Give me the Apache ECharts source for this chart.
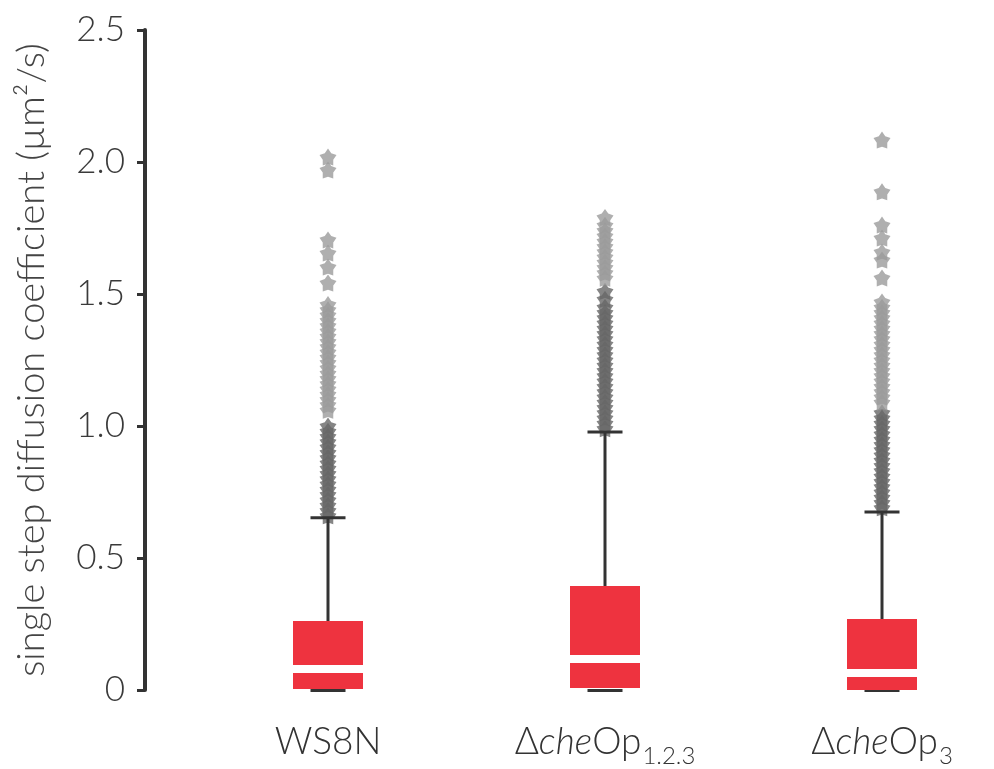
<!DOCTYPE html>
<html>
<head>
<meta charset="utf-8">
<script src="https://cdn.jsdelivr.net/npm/echarts@6/dist/echarts.min.js"></script>
<style>
  html, body { margin: 0; padding: 0; background: #ffffff; }
  #chart { width: 994px; height: 769px; }
</style>
</head>
<body>
<div id="chart"></div>
<script>
// Strains compared
const categories = ['WS8N', 'ΔcheOp1.2.3', 'ΔcheOp3'];
const categoryLabels = [
  '{n|WS8N}',
  '{n|Δ}{i|che}{n|Op}{s|1.2.3}',
  '{n|Δ}{i|che}{n|Op}{s|3}'
];

// Box statistics per strain: [lower whisker, Q1, median, Q3, upper whisker] in µm²/s
const boxWS8N = [0, 0.004, 0.080, 0.261, 0.652];
const boxCheOp123 = [0, 0.008, 0.117, 0.394, 0.977];
const boxCheOp3 = [0, 0.000, 0.064, 0.269, 0.674];

// Outliers, densely packed part just above the upper whisker
const denseWS8N = [0.66, 0.68, 0.70, 0.72, 0.74, 0.76, 0.78, 0.80, 0.82, 0.84, 0.86, 0.88, 0.90, 0.92, 0.94, 0.96, 0.98, 1.00];
const denseCheOp123 = [0.99, 1.01, 1.03, 1.05, 1.07, 1.09, 1.11, 1.13, 1.15, 1.17, 1.19, 1.21, 1.23, 1.25, 1.27, 1.29, 1.31, 1.33, 1.35, 1.37, 1.39, 1.41, 1.43, 1.45, 1.48, 1.51];
const denseCheOp3 = [0.69, 0.71, 0.73, 0.75, 0.77, 0.79, 0.81, 0.83, 0.85, 0.87, 0.89, 0.91, 0.93, 0.95, 0.97, 0.99, 1.01, 1.03, 1.05];

// Outliers, sparser part further out
const sparseWS8N = [1.06, 1.08, 1.10, 1.12, 1.14, 1.16, 1.18, 1.20, 1.22, 1.24, 1.26, 1.28, 1.30, 1.32, 1.34, 1.36, 1.38, 1.40, 1.42, 1.44, 1.46, 1.542, 1.602, 1.655, 1.705, 1.970, 2.019];
const sparseCheOp123 = [1.56, 1.58, 1.60, 1.62, 1.64, 1.66, 1.68, 1.70, 1.72, 1.74, 1.76, 1.79];
const sparseCheOp3 = [1.09, 1.11, 1.13, 1.15, 1.17, 1.19, 1.21, 1.23, 1.25, 1.27, 1.29, 1.31, 1.33, 1.35, 1.37, 1.39, 1.41, 1.43, 1.45, 1.47, 1.561, 1.629, 1.659, 1.712, 1.761, 1.887, 2.083];

// Y axis ticks
const yTicks = [0, 0.5, 1.0, 1.5, 2.0, 2.5];

const boxes = [boxWS8N, boxCheOp123, boxCheOp3];
const denseSets = [denseWS8N, denseCheOp123, denseCheOp3];
const sparseSets = [sparseWS8N, sparseCheOp123, sparseCheOp3];

const toPoints = sets => sets.flatMap((vals, i) => vals.map(v => [i, v]));

// Fat five-pointed star used for outlier markers
const STAR = 'path://M50,0 L68.2,24.9 L97.6,34.5 L79.5,59.6 L79.4,90.5 L50,81 L20.6,90.5 L20.5,59.6 L2.4,34.5 L31.8,24.9 Z';
const FONT = 'Lato, "Open Sans", sans-serif';
const DARK = '#333333';

const chart = echarts.init(document.getElementById('chart'), null, { renderer: 'canvas' });

chart.setOption({
  backgroundColor: '#ffffff',
  animation: false,
  grid: { left: 189.5, width: 831, top: 30, bottom: 79, containLabel: false, outerBoundsMode: 'none' },
  xAxis: {
    type: 'category',
    data: categories,
    axisLine: { show: false },
    axisTick: { show: false },
    splitLine: { show: false },
    axisLabel: {
      margin: 34,
      interval: 0,
      formatter: (v, i) => categoryLabels[i],
      rich: {
        n: { fontFamily: FONT, fontSize: 37, fontWeight: 300, color: DARK, lineHeight: 42, verticalAlign: 'top' },
        i: { fontFamily: FONT, fontSize: 37, fontWeight: 300, color: DARK, fontStyle: 'italic', lineHeight: 42, verticalAlign: 'top' },
        s: { fontFamily: FONT, fontSize: 24, fontWeight: 300, color: DARK, lineHeight: 24, padding: [20, 0, 0, 1], verticalAlign: 'top' }
      }
    }
  },
  yAxis: {
    type: 'value',
    min: yTicks[0],
    max: yTicks[yTicks.length - 1],
    interval: 0.5,
    offset: 44.5,
    name: 'single step diffusion coefficient (µm²/s)',
    nameLocation: 'middle',
    nameGap: 94,
    nameTextStyle: { fontFamily: FONT, fontSize: 38, fontWeight: 300, color: '#444444' },
    axisLine: { show: true, lineStyle: { color: DARK, width: 4 } },
    axisTick: { show: true, length: 8, lineStyle: { color: DARK, width: 3 } },
    splitLine: { show: false },
    axisLabel: {
      margin: 20,
      fontFamily: FONT,
      fontSize: 35,
      fontWeight: 300,
      color: '#3a3a3a',
      formatter: v => (v === 0 ? '0' : v.toFixed(1))
    }
  },
  series: [
    {
      name: 'outliers (dense)',
      type: 'scatter',
      data: toPoints(denseSets),
      symbol: STAR,
      symbolSize: 17,
      itemStyle: { color: '#666666' },
      z: 2
    },
    {
      name: 'outliers (sparse)',
      type: 'scatter',
      data: toPoints(sparseSets),
      symbol: STAR,
      symbolSize: 17,
      itemStyle: { color: '#9b9b9b' },
      z: 3
    },
    {
      name: 'box',
      type: 'custom',
      z: 4,
      data: boxes.map((b, i) => [i].concat(b)),
      encode: { x: 0, y: [1, 2, 3, 4, 5] },
      renderItem: function (params, api) {
        const c = api.value(0);
        const pMin = api.coord([c, api.value(1)]);
        const pQ1 = api.coord([c, api.value(2)]);
        const pMed = api.coord([c, api.value(3)]);
        const pQ3 = api.coord([c, api.value(4)]);
        const pMax = api.coord([c, api.value(5)]);
        const x = pMin[0];
        const boxW = 70;
        const capW = 35;
        return {
          type: 'group',
          children: [
            { type: 'line', shape: { x1: x, y1: pQ3[1], x2: x, y2: pMax[1] }, style: { stroke: DARK, lineWidth: 3 } },
            { type: 'line', shape: { x1: x - capW / 2, y1: pMax[1], x2: x + capW / 2, y2: pMax[1] }, style: { stroke: DARK, lineWidth: 3 } },
            { type: 'line', shape: { x1: x - capW / 2, y1: pMin[1] + 0.5, x2: x + capW / 2, y2: pMin[1] + 0.5 }, style: { stroke: DARK, lineWidth: 3 } },
            { type: 'rect', shape: { x: x - boxW / 2, y: pQ3[1], width: boxW, height: pQ1[1] - pQ3[1] }, style: { fill: '#ee333f' } },
            { type: 'line', shape: { x1: x - boxW / 2, y1: pMed[1], x2: x + boxW / 2, y2: pMed[1] }, style: { stroke: '#ffffff', lineWidth: 8 } }
          ]
        };
      }
    }
  ]
});
</script>
</body>
</html>
